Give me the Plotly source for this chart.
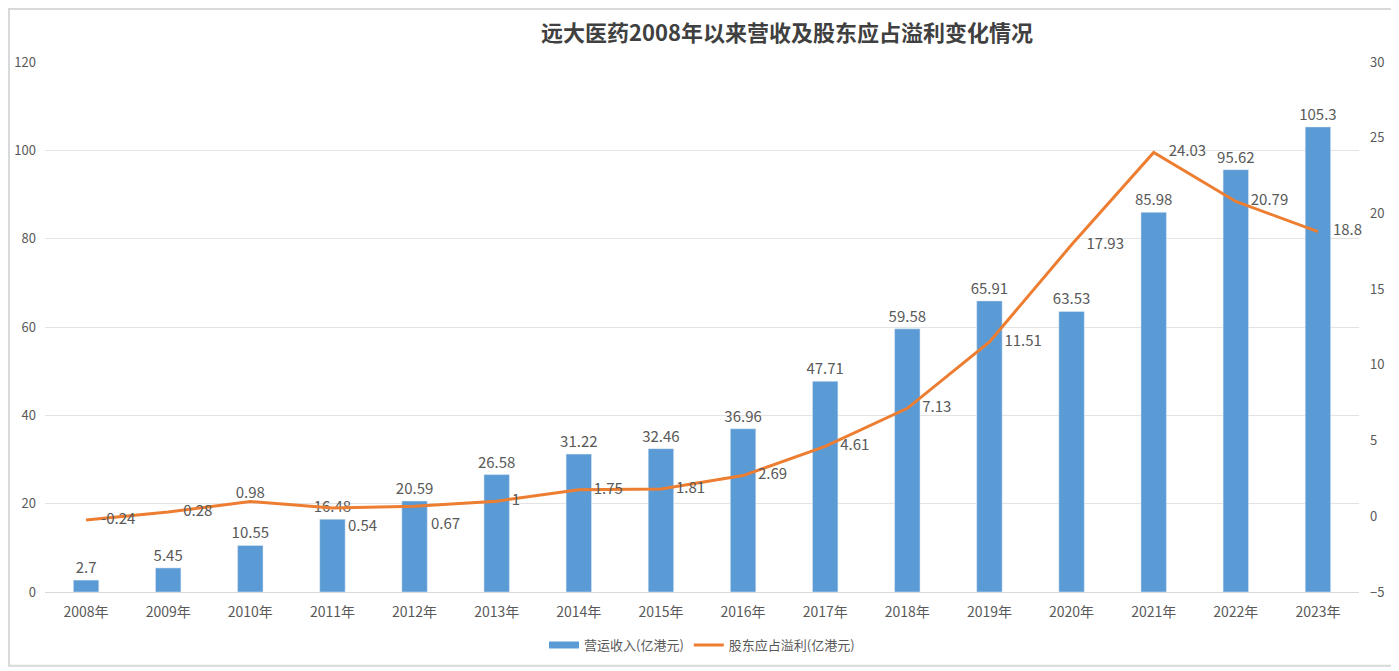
import plotly.graph_objects as go

years = ["2008年", "2009年", "2010年", "2011年", "2012年", "2013年", "2014年", "2015年",
         "2016年", "2017年", "2018年", "2019年", "2020年", "2021年", "2022年", "2023年"]
revenue = [2.7, 5.45, 10.55, 16.48, 20.59, 26.58, 31.22, 32.46, 36.96, 47.71, 59.58,
           65.91, 63.53, 85.98, 95.62, 105.3]
profit = [-0.24, 0.28, 0.98, 0.54, 0.67, 1, 1.75, 1.81, 2.69, 4.61, 7.13, 11.51, 17.93,
          24.03, 20.79, 18.8]
left_ticks = [0, 20, 40, 60, 80, 100, 120]
right_ticks = [-5, 0, 5, 10, 15, 20, 25, 30]

FONT = "Noto Sans CJK SC"
GREY = "#595959"
BLUE = "#5B9BD5"
ORANGE = "#ED7D31"
PAD = "\u2002\u2002"

# labels below-right of the point (drawn as annotations)
below_idx = [3, 4]

line_pos = ["middle right"] * len(profit)
line_pos[2] = "top center"
line_text = [PAD + f"{v:g}" for v in profit]
line_text[2] = f"{profit[2]:g}"
for i in below_idx:
    line_text[i] = ""

W, H = 1391, 663
L, R, T, B = 37, 40, 54, 78

fig = go.Figure()
fig.add_trace(go.Bar(
    x=years, y=revenue, name="营运收入(亿港元)", showlegend=False,
    marker_color=BLUE,
    text=[f"{v:g}" for v in revenue], textposition="outside",
    constraintext="none",
    textfont=dict(family=FONT, size=15, color=GREY),
    cliponaxis=False,
))
fig.add_trace(go.Scatter(
    x=years, y=profit, name="股东应占溢利(亿港元)", yaxis="y2", showlegend=False,
    mode="lines+text", line=dict(color=ORANGE, width=3),
    text=line_text, textposition=line_pos,
    textfont=dict(family=FONT, size=15, color=GREY),
    cliponaxis=False,
))
for i in below_idx:
    fig.add_annotation(x=years[i], y=profit[i], xref="x", yref="y2",
                       text=f"{profit[i]:g}", showarrow=False,
                       xanchor="left", yanchor="middle", xshift=14, yshift=-16,
                       font=dict(family=FONT, size=15, color=GREY))
# legend entries
fig.add_trace(go.Scatter(x=[None], y=[None], mode="lines", name="营运收入(亿港元)",
                         line=dict(color=BLUE, width=7)))
fig.add_trace(go.Scatter(x=[None], y=[None], mode="lines", name="股东应占溢利(亿港元)",
                         line=dict(color=ORANGE, width=3)))

plot_h = H - T - B
plot_w = W - L - R

fig.update_layout(
    width=W, height=H,
    margin=dict(l=L, r=R, t=T, b=B),
    paper_bgcolor="white", plot_bgcolor="white",
    font=dict(family=FONT, color=GREY, size=13),
    title=dict(text="<b>远大医药2008年以来营收及股东应占溢利变化情况</b>",
               x=0.560, xanchor="center", xref="container",
               y=0.962, yanchor="middle", yref="container",
               font=dict(family=FONT, size=22, color="#404040")),
    bargap=0.69,
    xaxis=dict(range=[-0.5, 15.5], showgrid=False, showline=True, linecolor="#D9D9D9",
               ticks="", automargin=False, ticklabelstandoff=7,
               tickfont=dict(size=14, color=GREY)),
    yaxis=dict(range=[0, 120], tickvals=left_ticks, showgrid=True, gridcolor="#E3E3E3",
               zeroline=False, ticks="", automargin=False, ticklabelstandoff=8,
               tickfont=dict(size=13, color=GREY)),
    yaxis2=dict(range=[-5, 30], tickvals=right_ticks, overlaying="y", side="right",
                showgrid=False, zeroline=False, ticks="", automargin=False,
                ticklabelstandoff=10, tickfont=dict(size=13, color=GREY)),
    legend=dict(orientation="h", x=0.5, xanchor="center", y=-0.098, yanchor="middle",
                font=dict(size=13, color=GREY), itemwidth=30),
    showlegend=True,
)

fig.add_shape(type="rect", xref="paper", yref="paper",
              x0=-(L - 1) / plot_w, x1=1 + (R - 2) / plot_w,
              y0=-(B - 4) / plot_h, y1=1 + (T - 1) / plot_h,
              line=dict(color="#D9D9D9", width=2), fillcolor="rgba(0,0,0,0)", layer="below")

fig.write_html("out.html")
